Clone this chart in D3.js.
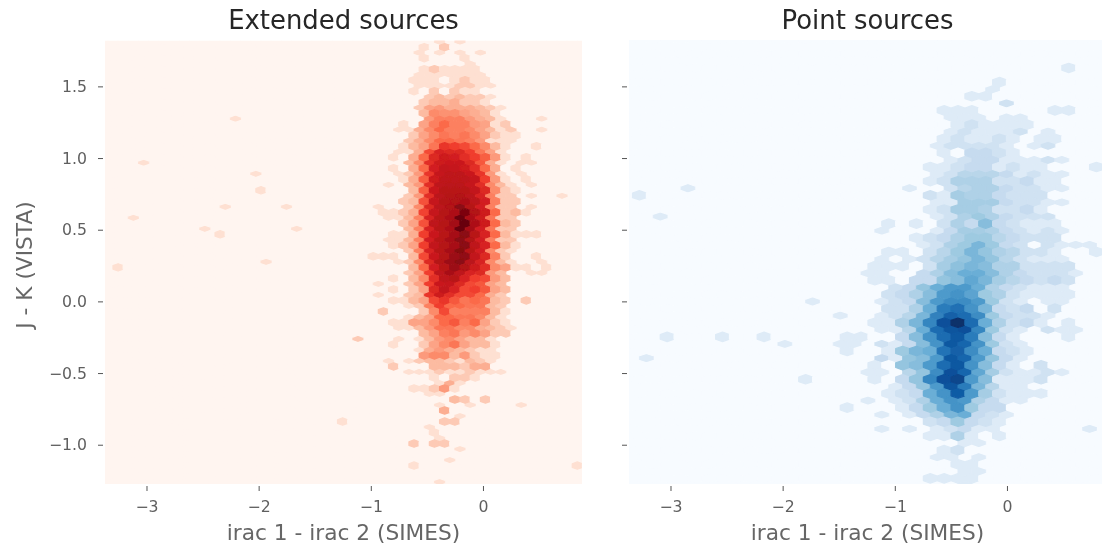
<!DOCTYPE html>
<html><head><meta charset="utf-8">
<style>html,body{margin:0;padding:0;background:#fff}svg{display:block}text{font-family:"DejaVu Sans",sans-serif}</style>
<script src="https://cdn.jsdelivr.net/npm/d3@7/dist/d3.min.js"></script>
</head><body><svg id="c" width="1102" height="552"></svg>
<script>
const titles = ["Extended sources", "Point sources"];
const xLabel = "irac 1 - irac 2 (SIMES)";
const yLabel = "J - K (VISTA)";
const xTicks = [-3, -2, -1, 0];
const yTicks = [-1.0, -0.5, 0.0, 0.5, 1.0, 1.5];
const xLimits = [-3.37, 0.883];
const yLimits = [-1.274, 1.82];
const reds = ["#fff5f0","#fee0d2","#fcbba1","#fc9272","#fb6a4a","#ef3b2c","#cb181d","#a50f15","#67000d"];
const blues = ["#f7fbff","#deebf7","#c6dbef","#9ecae1","#6baed6","#4292c6","#2171b5","#08519c","#08306b"];
const maxCount = 255;

// Each entry: [row, first column, counts along that row...]
const extendedUpper = [
[0,30,1,0,2],[1,30,1,0,0,0,1],[2,30,1,2,1,1,1,1],[3,29,1,1,1,0,1,2,1,1],[4,29,1,0,2,0,2,1,1],
[5,30,2,3,3,4,2,2,1],[6,30,3,8,7,7,5,4,3,1],[7,28,1,0,5,10,15,10,10,6,5,1,2],[8,29,2,5,8,12,10,12,8,5,2,1,1],
[9,28,1,3,5,12,35,30,25,15,8,3,1,0,0,1],[10,27,1,0,4,15,45,60,55,40,30,18,6,1,0,1],[11,27,1,0,4,15,55,75,70,60,40,15,4,0,1],
[12,28,1,4,18,60,80,80,80,70,30,6,1,0,1],[13,29,3,18,65,90,90,90,75,45,8,2,1],[13,14,1],[14,28,2,3,22,70,95,100,110,85,55,10,2,2],
[15,26,1,1,2,4,28,70,95,110,200,100,60,15,2,3,1],[16,28,2,5,22,80,95,130,255,110,60,15,3,2],
[17,27,1,1,4,30,65,90,125,170,90,50,15,3,1,1,1],[17,10,1],[18,27,1,2,5,30,75,95,120,170,80,50,15,3,1],
[19,25,1,1,1,0,3,25,65,95,140,160,75,45,10,2,0,0,1],[20,29,3,15,55,90,140,100,60,40,8,5,1,1,0,1],[20,0,1]];
const extendedLower = [
[21,27,1,0,3,8,40,80,90,50,30,25,6,3],[22,27,1,0,2,5,45,75,50,25,30,20,5,3],[23,27,1,1,3,5,25,35,20,12,15,12,3,2,0,2],
[24,26,2,0,0,0,2,8,25,10,10,10,10,3,1],[25,27,1,1,5,5,8,15,20,10,15,5,2,1],[26,30,3,5,10,12,6,8,5,2,2],
[27,27,1,0,0,2,5,8,12,5,3,3,1],[28,30,6,8,8,3,6,2,1,1],[29,27,2,0,0,0,3,3,3,2,4,4],[30,31,1,0,2,2,1],
[31,29,1,1,2,6,1],[32,33,3,2,0,2],[33,32,4],[34,22,1],[34,32,2,2],[35,31,1],[36,29,2,0,2,2],[38,29,1],[38,45,1]];
const extendedOffsetUpper = [
[0,31,1,0,1],[1,29,1,0,1,0,1,0,1],[2,34,1],[3,29,1,1,1,1,1,1,1],[4,29,1,1,1,1,2,2,1,1],[5,30,2,3,2,3,2,2,1],
[6,29,2,5,6,4,4,4,3,2,1],[7,30,6,10,10,10,6,4,3,1,0,0,0,1],[7,11,1],[8,27,1,1,4,8,15,10,10,8,5,3,1,2,0,0,1],
[9,28,2,4,8,15,15,12,10,6,1,1,1],[10,27,1,1,4,25,50,45,45,30,12,5,1],[11,28,3,8,40,60,65,65,45,20,4,1,0,1,1],[11,2,1],
[12,27,1,2,6,35,70,80,80,65,35,6,1,0,1],[12,13,1],[13,26,1,0,3,6,40,80,85,85,70,40,8,3,1,0,1],
[14,28,2,6,40,85,95,100,85,50,10,2,2,0,1,0,0,1],[15,25,1,0,0,2,8,45,85,100,170,95,55,10,2,2,0,1],[15,10,1],[15,16,1],
[16,26,1,1,3,10,50,90,110,240,110,60,12,2,2],[16,1,1],[17,28,3,10,50,90,110,255,120,55,12,2,2],[17,8,1],[17,17,1],
[18,26,1,1,3,10,55,90,120,170,100,55,10,2,2],[19,28,2,10,50,90,125,180,90,55,8,2,1],[20,27,1,2,8,45,95,140,170,85,50,8,3,1,0,0,1],[20,14,1]];
const extendedOffsetLower = [
[21,28,2,5,30,80,120,80,50,45,6,3,0,0,1,1],[22,25,1,0,0,2,5,30,65,70,45,25,20,5,3],[23,25,1,0,0,2,3,35,60,40,25,25,15,4,2],
[24,28,1,2,10,30,15,15,12,12,3,2],[25,28,1,3,5,15,15,12,12,8,3,1],[26,27,1,1,3,6,12,12,8,8,4,3,2,1],[27,27,1,0,1,3,6,8,5,3,3,1],[27,23,2],
[28,29,1,4,6,4,3,2,1,1],[29,26,1,0,1,2,3,3,2,1,3,2,1],[30,28,1,1,1,2,1,1,2,1,1,1],[31,31,1,4,1],[32,30,1,1],
[33,31,1,0,0,1,0,0,0,0,1],[34,33,1],[35,30,1],[36,31,1],[37,33,1],[38,32,1],[40,31,1]];

const pointUpper = [
[2,31,1],[3,26,1],[4,24,1,1],[5,22,1,1,1],[5,30,1,1],[6,23,1,2,1,1,1,1],[7,22,1,2,1,1,2,1,0,1,1],[8,22,1,0,3,3,2,1],
[9,21,1,1,2,3,3,1,2,1,1],[9,33,1],[10,21,1,2,5,5,5,2,2,3,1,1],[11,21,2,1,6,5,5,3,2,2,2],[11,0,1],[12,21,1,2,6,6,5,2,2,3,1],
[13,18,1,0,1,0,2,5,3,10,3,2,1,1,1],[14,20,1,2,3,5,7,7,4,3,2,2,2],[15,18,1,1,0,2,4,7,12,8,5,4,2,2,1,0,0,1]];
const pointLower = [
[16,17,1,1,1,0,2,6,9,12,10,5,5,2,2,2,2],[17,17,1,1,0,3,3,8,10,18,12,6,4,3,2,3,2],[18,18,2,3,5,10,25,30,20,7,5,2,1,1,1,1],
[19,18,2,2,5,15,50,65,30,12,3,2,3,0,2],[20,17,1,1,5,12,40,130,255,70,15,5,2,3,1,0,1],[21,2,1],[21,6,1],[21,9,1],[21,15,1,1],
[21,19,3,10,30,70,110,50,10,3,1,0,0,0,1],[22,15,1,0,0,1,7,12,15,60,90,35,15,3,2,1],[23,17,1,0,8,10,25,70,110,30,10,3,1,0,2],
[24,12,1],[24,17,1,0,3,8,40,130,160,25,10,1,1,1,2],[25,18,1,2,3,15,30,100,25,6,2,1,1,1],[26,15,1],[26,19,1,3,7,15,30,7,3,3],
[27,21,2,3,7,3,2,1],[28,21,1,1,5,1,0,1],[29,22,1,2],[30,23,1,1],[31,21,1,1,1,1]];
const pointOffsetUpper = [
[3,25,1],[4,26,2],[5,22,1,1,1,0,1,1],[6,22,1,2,1,1,1,2,0,1],[7,21,1,2,2,2,2,1,0,1,2],[8,22,1,2,3,3,1,1,1,2,1],
[9,21,1,2,4,4,4,3,1,2,1,1],[10,19,1],[10,3,1],[10,22,2,4,5,5,3,2,2,1,1],[11,21,1,1,6,6,6,3,2,2,1,1],[12,21,1,2,5,7,5,3,2,2,2],[12,1,1],
[13,17,1],[13,21,1,3,6,6,5,3,2,1,2,1],[14,20,1,2,5,7,12,7,3,2,0,2,1,1,1],[15,17,1,0,1,2,4,6,8,12,8,4,2,1,1,1]];
const pointOffsetLower = [
[16,16,1,1,0,0,3,5,10,15,15,10,5,3,2,2,2,1],[17,18,2,3,8,15,25,25,15,5,3,2,1,1,1],[18,12,1],[18,17,1,2,3,10,25,35,35,25,7,2,1,0,1,1],
[19,14,1],[19,17,1,2,4,12,45,90,70,35,7,3,2,2,1],[20,17,1,1,4,15,70,120,130,40,7,2,1,0,2,1,1],[21,10,1],
[21,14,1,1,0,2,1,3,10,30,110,80,30,7,2,1],[22,0,1],[22,17,3,1,8,10,25,110,80,25,8,3,1],[23,16,1,1,0,4,8,35,130,80,18,6,2,1,1,2,1],
[24,18,1,3,8,25,120,50,12,4,1,1],[25,16,1,0,1,2,5,15,30,25,5,3,1,1],[26,17,1,0,1,3,5,12,15,3,2,1],[27,17,1,0,1,0,1,2,3,1,1],[27,32,1],
[28,23,1,1],[29,21,1,1,0,1],[30,23,1,1],[31,23,1]];

const svg = d3.select("#c");
const defs = svg.append("defs");
defs.append("filter").attr("id","soft").attr("x","-2%").attr("y","-2%").attr("width","104%").attr("height","104%")
  .append("feGaussianBlur").attr("stdDeviation",0.6);
defs.append("filter").attr("id","softText").attr("x","-5%").attr("y","-5%").attr("width","110%").attr("height","110%")
  .append("feGaussianBlur").attr("stdDeviation",0.35);

const panels = [
 {title:titles[0], left:105, right:582, palette:reds, front:extendedUpper.concat(extendedLower), back:extendedOffsetUpper.concat(extendedOffsetLower),
  gx:{x0:-3.2533, dx:0.09099, ox0:-3.2078}, gy:{y0:1.7737, dy:-0.07682, oy0:1.8135}, labelled:true},
 {title:titles[1], left:629, right:1106, palette:blues, front:pointUpper.concat(pointLower), back:pointOffsetUpper.concat(pointOffsetLower),
  gx:{x0:-3.2768, dx:0.12348, ox0:-3.2153}, gy:{y0:1.8260, dy:-0.09874, oy0:1.7765}, labelled:false}
];
const plotTop = 40.5, plotBottom = 484;
const y = d3.scaleLinear().domain(yLimits).range([plotBottom, plotTop]);

panels.forEach((p, pi) => {
  const x = d3.scaleLinear().domain(xLimits).range([p.left, p.right]);
  const colour = d3.scaleLinear().domain(d3.range(9).map(i => i/8)).range(p.palette).interpolate(d3.interpolateRgb);
  const fill = c => colour(Math.log10(1 + c) / Math.log10(1 + maxCount));
  const g = svg.append("g");
  const clipId = "clip" + pi;
  defs.append("clipPath").attr("id", clipId).append("rect")
    .attr("x", p.left).attr("y", plotTop).attr("width", p.right - p.left).attr("height", plotBottom - plotTop);
  const plot = g.append("g").attr("clip-path", `url(#${clipId})`).append("g").attr("filter","url(#soft)");
  plot.append("rect").attr("x", p.left).attr("y", plotTop).attr("width", p.right - p.left).attr("height", plotBottom - plotTop).attr("fill", p.palette[0]);

  const sx = Math.abs(x(p.gx.dx) - x(0));
  const sy = Math.abs(y(p.gy.dy) - y(0));
  const hexPath = d3.line()([[.5,-.5],[.5,.5],[0,1],[-.5,.5],[-.5,-.5],[0,-1]].map(v => [v[0]*sx, v[1]*sy/3])) + "Z";

  const expand = (rows, xo, yo) => {
    const out = [];
    rows.forEach(r => r.slice(2).forEach((c, i) => {
      out.push({vx: xo + (r[1]+i)*p.gx.dx, vy: yo + r[0]*p.gy.dy, c, key: r[0] + ":" + (r[1]+i)});
    }));
    return out;
  };
  const drawCells = (cells, sw) => plot.append("g").selectAll("path").data(cells).join("path")
      .attr("d", hexPath)
      .attr("transform", d => `translate(${x(d.vx)},${y(d.vy)})`)
      .attr("fill", d => fill(d.c))
      .attr("stroke", d => fill(d.c)).attr("stroke-width", sw).attr("stroke-linejoin","round");

  drawCells(expand(p.back, p.gx.ox0, p.gy.oy0).filter(d => d.c > 0), 0.8);

  const frontCells = new Map(expand(p.front, p.gx.x0, p.gy.y0).map(d => [d.key, d]));
  const all = [];
  d3.range(-1, 42).forEach(n => d3.range(-1, 50).forEach(k => {
    const key = n + ":" + k;
    all.push(frontCells.get(key) || {vx: p.gx.x0 + k*p.gx.dx, vy: p.gy.y0 + n*p.gy.dy, c: 0, key});
  }));
  drawCells(all, 1.2);

  const txt = g.append("g").attr("filter","url(#softText)");
  const ax = txt.append("g").attr("transform", `translate(0,${plotBottom + 2})`)
    .call(d3.axisBottom(x).tickValues(xTicks).tickSize(5).tickPadding(9.8).tickFormat(d => String(d).replace("-", "\u2212")));
  const ay = txt.append("g").attr("transform", `translate(${p.left - 2},0)`)
    .call(d3.axisLeft(y).tickValues(yTicks).tickSize(5).tickPadding(11).tickFormat(d => p.labelled ? d3.format(".1f")(d).replace("-", "\u2212") : ""));
  [ax, ay].forEach(a => {
    a.select(".domain").remove();
    a.selectAll(".tick line").attr("stroke", "#555").attr("stroke-width", 1);
    a.selectAll(".tick text").attr("fill", "#5f5f5f").style("font-size", "15.7px").style("font-family", '"DejaVu Sans"');
  });
  txt.append("text").attr("x", (p.left + p.right)/2).attr("y", 29).attr("text-anchor","middle")
    .attr("fill","#262626").style("font-size","25.9px").text(p.title);
  txt.append("text").attr("x", (p.left + p.right)/2).attr("y", 540).attr("text-anchor","middle")
    .attr("fill","#666").style("font-size","21.7px").text(xLabel);
  if (p.labelled) txt.append("text").attr("transform","translate(32,265) rotate(-90)").attr("text-anchor","middle")
    .attr("fill","#666").style("font-size","21.7px").text(yLabel);
});
</script></body></html>
